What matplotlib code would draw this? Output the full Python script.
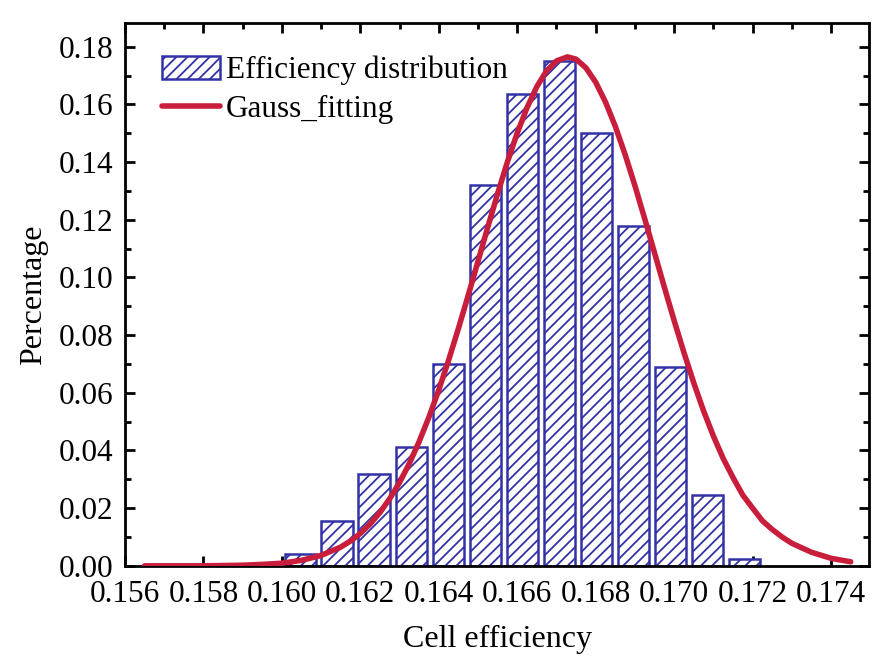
import matplotlib
matplotlib.use("Agg")
import matplotlib.pyplot as plt
from matplotlib.ticker import MultipleLocator, FormatStrFormatter

# histogram bins (centres) and heights
bin_centers = [0.16047, 0.16141, 0.16235, 0.16330, 0.16424, 0.16519, 0.16613,
               0.16707, 0.16802, 0.16896, 0.16991, 0.17085, 0.17179]
bin_heights = [0.0040, 0.0156, 0.0318, 0.0412, 0.0699, 0.1320, 0.1637,
               0.1750, 0.1500, 0.1180, 0.0689, 0.0246, 0.0024]
bar_width = 0.00080

# Gauss fitting curve
fit_x = [0.1565, 0.1570, 0.1575, 0.1580, 0.1585, 0.1590, 0.1595, 0.1600,
         0.1605, 0.1610, 0.1615, 0.16175, 0.1620, 0.16225, 0.1625, 0.16275,
         0.1630, 0.16325, 0.1635, 0.16375, 0.1640, 0.16425, 0.1645, 0.16475,
         0.1650, 0.16525, 0.1655, 0.16575, 0.1660, 0.16625, 0.1665, 0.16675,
         0.1670, 0.16728, 0.1675, 0.16775, 0.1680, 0.16825, 0.1685, 0.16875,
         0.1690, 0.16925, 0.1695, 0.16975, 0.1700, 0.17025, 0.1705, 0.17075,
         0.1710, 0.17125, 0.1715, 0.17175, 0.1720, 0.17225, 0.1725, 0.17275,
         0.1730, 0.1735, 0.1740, 0.1745]
fit_y = [0.0000, 0.0000, 0.0000, 0.0000, 0.0001, 0.0002, 0.0005, 0.0009,
         0.0019, 0.0036, 0.0065, 0.0086, 0.0112, 0.0145, 0.0185, 0.0233,
         0.0289, 0.0355, 0.0431, 0.0516, 0.0610, 0.0713, 0.0823, 0.0938,
         0.1056, 0.1175, 0.1291, 0.1401, 0.1501, 0.1589, 0.1662, 0.1717,
         0.1751, 0.1765, 0.1757, 0.1727, 0.1677, 0.1608, 0.1524, 0.1426,
         0.1318, 0.1203, 0.1085, 0.0966, 0.0850, 0.0739, 0.0634, 0.0537,
         0.0450, 0.0372, 0.0306, 0.0245, 0.0200, 0.0156, 0.0126, 0.0100,
         0.0078, 0.0047, 0.0026, 0.0014]

bar_color = "#3232a6"
line_color = "#c81e3c"

plt.rcParams["font.family"] = ["Liberation Serif", "DejaVu Serif"]
plt.rcParams["hatch.linewidth"] = 1.3
plt.rcParams["hatch.color"] = bar_color

fig = plt.figure(figsize=(8.86, 6.72), dpi=100)
ax = fig.add_axes([0.141, 0.158, 0.840, 0.808])

ax.bar(bin_centers, bin_heights, width=bar_width, color="white",
       edgecolor=bar_color, linewidth=1.8, hatch="///",
       label="Efficiency distribution", zorder=2)
ax.plot(fit_x, fit_y, color=line_color, linewidth=4,
        solid_joinstyle="round", solid_capstyle="round",
        label="Gauss_fitting", zorder=3)

ax.set_xlim(0.156, 0.17497)
ax.set_ylim(0, 0.1883)
ax.xaxis.set_major_locator(MultipleLocator(0.002))
ax.xaxis.set_minor_locator(MultipleLocator(0.001))
ax.yaxis.set_major_locator(MultipleLocator(0.02))
ax.yaxis.set_minor_locator(MultipleLocator(0.01))
ax.xaxis.set_major_formatter(FormatStrFormatter("%.3f"))
ax.yaxis.set_major_formatter(FormatStrFormatter("%.2f"))

ax.tick_params(which="both", direction="in", top=True, right=True,
               labelsize=22.5, width=2)
ax.tick_params(which="major", length=7)
ax.tick_params(which="minor", length=4, bottom=False)
ax.tick_params(axis="x", pad=10)
ax.tick_params(axis="y", pad=8)
for s in ax.spines.values():
    s.set_linewidth(2)

ax.set_xlabel("Cell efficiency", fontsize=23, labelpad=12)
ax.set_ylabel("Percentage", fontsize=23, labelpad=8)

handles, labels = ax.get_legend_handles_labels()
ax.legend(handles[::-1], labels[::-1], loc="upper left", frameon=False,
          fontsize=22.5, handlelength=1.85, handleheight=0.75,
          handletextpad=0.2, labelspacing=0.3,
          borderaxespad=0.0, bbox_to_anchor=(0.033, 0.962))

fig.savefig("out.png", dpi=100)
